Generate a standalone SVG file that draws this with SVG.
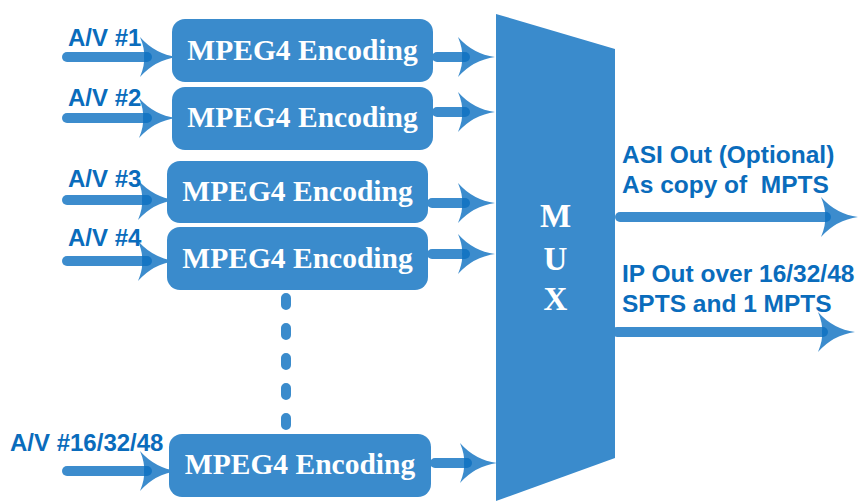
<svg xmlns="http://www.w3.org/2000/svg" xmlns:xlink="http://www.w3.org/1999/xlink" width="859" height="501" viewBox="0 0 859 501">
<style>
.box{fill:#3a8bcc}
.enc{font-family:"Liberation Serif","Times New Roman",serif;font-weight:bold;font-size:29.5px;fill:#ffffff;text-anchor:middle}
.mux{font-family:"Liberation Serif","Times New Roman",serif;font-weight:bold;font-size:33px;fill:#ffffff;text-anchor:middle}
.lbl{font-family:"Liberation Sans",Arial,sans-serif;font-weight:bold;font-size:24px;fill:#0a6cbc;white-space:pre}
.out{font-size:24.5px}
.ln{stroke:#0b6fc0;stroke-opacity:.8;stroke-width:10;stroke-linecap:round;fill:none}
.hd{fill:#0b6fc0;fill-opacity:.8}
.dots{stroke:#3a8bcc;stroke-width:10;stroke-linecap:round;stroke-dasharray:7 23;fill:none}
</style>
<defs>
<path id="ah" class="hd" d="M0,0 Q-22,-3 -37,-20 Q-32,-8 -33,0 Q-32,8 -37,20 Q-22,3 0,0Z"/>
</defs>
<g id="connectors">
<line class="ln" x1="67" y1="57" x2="147" y2="57"/><use xlink:href="#ah" href="#ah" x="177" y="57"/>
<line class="ln" x1="67" y1="118" x2="147" y2="118"/><use xlink:href="#ah" href="#ah" x="176" y="118"/>
<line class="ln" x1="67" y1="200" x2="147" y2="200"/><use xlink:href="#ah" href="#ah" x="175" y="200"/>
<line class="ln" x1="67" y1="261" x2="147" y2="261"/><use xlink:href="#ah" href="#ah" x="175" y="261"/>
<line class="ln" x1="67" y1="471" x2="147" y2="471"/><use xlink:href="#ah" href="#ah" x="177" y="471"/>
<line class="ln" x1="437" y1="57" x2="465" y2="57"/><use xlink:href="#ah" href="#ah" x="495" y="57"/>
<line class="ln" x1="437" y1="112" x2="465" y2="112"/><use xlink:href="#ah" href="#ah" x="495" y="112"/>
<line class="ln" x1="432" y1="203" x2="465" y2="203"/><use xlink:href="#ah" href="#ah" x="495" y="203"/>
<line class="ln" x1="432" y1="254" x2="465" y2="254"/><use xlink:href="#ah" href="#ah" x="495" y="254"/>
<line class="ln" x1="435" y1="463" x2="467" y2="463"/><use xlink:href="#ah" href="#ah" x="497" y="463"/>
<line class="ln" x1="620" y1="217" x2="826" y2="217"/><use xlink:href="#ah" href="#ah" x="858" y="217"/>
<line class="ln" x1="617" y1="332" x2="823" y2="332"/><use xlink:href="#ah" href="#ah" x="855" y="332"/>
<line class="dots" x1="286" y1="298" x2="286" y2="425"/>
</g>
<g id="enc1"><rect class="box" x="172" y="19" width="261" height="63" rx="13"/><text class="enc" x="302.5" y="59.5">MPEG4 Encoding</text></g>
<g id="enc2"><rect class="box" x="172" y="87" width="261" height="63" rx="13"/><text class="enc" x="302.5" y="127">MPEG4 Encoding</text></g>
<g id="enc3"><rect class="box" x="167" y="161" width="261" height="62" rx="13"/><text class="enc" x="297.5" y="201">MPEG4 Encoding</text></g>
<g id="enc4"><rect class="box" x="167" y="227" width="261" height="63" rx="13"/><text class="enc" x="297.5" y="267.5">MPEG4 Encoding</text></g>
<g id="enc5"><rect class="box" x="169" y="434" width="262" height="63" rx="13"/><text class="enc" x="300" y="474">MPEG4 Encoding</text></g>
<g id="mux"><polygon class="box" points="496,14 615,49 615,458 496,501"/>
<text class="mux" x="555.5" y="227">M</text><text class="mux" x="555.5" y="270">U</text><text class="mux" x="555.5" y="310">X</text></g>
<g id="labels">
<text class="lbl" x="68" y="46">A/V #1</text>
<text class="lbl" x="68" y="106">A/V #2</text>
<text class="lbl" x="68" y="187">A/V #3</text>
<text class="lbl" x="68" y="246">A/V #4</text>
<text class="lbl" x="10" y="451">A/V #16/32/48</text>
<text class="lbl out" x="622" y="163">ASI Out (Optional)</text>
<text class="lbl out" x="622" y="193" xml:space="preserve">As copy of  MPTS</text>
<text class="lbl out" x="622" y="282">IP Out over 16/32/48</text>
<text class="lbl out" x="622" y="312">SPTS and 1 MPTS</text>
</g>
</svg>
